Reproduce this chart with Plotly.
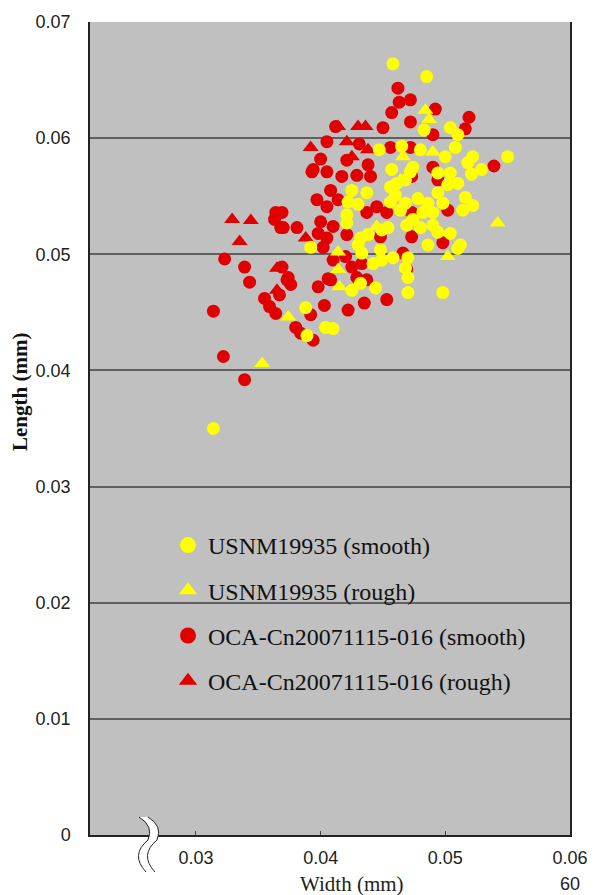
import plotly.graph_objects as go

# ---------------- data (Width mm, Length mm) ----------------
oca_smooth_w = [0.0364,0.0363,0.0368,0.0323,0.0339,0.0343,0.0314,0.0355,0.0359,0.0364,
                0.0367,0.0374,0.0376,0.0322,0.0339,0.0380,0.0384,0.0394,0.0392,0.0398,
                0.0406,0.0403,0.0422,0.0435,0.0453,0.0369,0.0373,0.0370,0.0381,0.0369,
                0.0393,0.0405,0.0417,0.0429,0.0440,0.0408,0.0397,0.0405,0.0414,0.0400,
                0.0410,0.0398,0.0405,0.0421,0.0437,0.0445,0.0453,0.0448,0.0420,0.0410,
                0.0425,0.0433,0.0408,0.0429,0.0437,0.0402,0.0462,0.0463,0.0457,0.0472,
                0.0450,0.0472,0.0412,0.0405,0.0431,0.0400,0.0394,0.0456,0.0438,0.0421,
                0.0492,0.0519,0.0516,0.0490,0.0539,0.0472,0.0490,0.0473,0.0494,0.0502,
                0.0473,0.0473,0.0498,0.0466,0.0469]
oca_smooth_l = [0.0536,0.0530,0.0523,0.0496,0.0489,0.0476,0.0451,0.0462,0.0455,0.0449,
                0.0465,0.0480,0.0474,0.0412,0.0392,0.0437,0.0432,0.0426,0.0448,0.0472,
                0.0479,0.0456,0.0452,0.0458,0.0461,0.0489,0.0478,0.0523,0.0523,0.0536,
                0.0571,0.0571,0.0567,0.0568,0.0567,0.0555,0.0547,0.0541,0.0547,0.0528,
                0.0524,0.0518,0.0514,0.0517,0.0536,0.0541,0.0536,0.0515,0.0498,0.0495,
                0.0489,0.0492,0.0478,0.0480,0.0478,0.0506,0.0643,0.0631,0.0622,0.0633,
                0.0609,0.0614,0.0610,0.0597,0.0595,0.0582,0.0573,0.0592,0.0577,0.0581,
                0.0625,0.0618,0.0608,0.0603,0.0576,0.0592,0.0575,0.0567,0.0564,0.0538,
                0.0536,0.0515,0.0510,0.0501,0.0487]

oca_rough_w = [0.0329,0.0344,0.0335,0.0365,0.0365,0.0388,0.0392,0.0414,0.0430,0.0436,
               0.0421,0.0438,0.0425]
oca_rough_l = [0.0530,0.0529,0.0511,0.0488,0.0469,0.0514,0.0592,0.0610,0.0610,0.0610,
               0.0597,0.0590,0.0584]

usnm_smooth_w = [0.0458,0.0485,0.0314,0.0550,0.0504,0.0510,0.0508,0.0522,0.0518,0.0529,
                 0.0521,0.0483,0.0480,0.0500,0.0474,0.0504,0.0447,0.0465,0.0457,0.0472,
                 0.0494,0.0502,0.0510,0.0494,0.0478,0.0468,0.0486,0.0498,0.0516,0.0522,
                 0.0514,0.0482,0.0490,0.0474,0.0469,0.0480,0.0490,0.0494,0.0504,0.0486,
                 0.0512,0.0510,0.0470,0.0468,0.0470,0.0470,0.0498,0.0425,0.0437,0.0422,
                 0.0430,0.0421,0.0421,0.0432,0.0430,0.0438,0.0449,0.0454,0.0448,0.0442,
                 0.0449,0.0458,0.0432,0.0425,0.0444,0.0392,0.0388,0.0456,0.0460,0.0464,
                 0.0456,0.0461,0.0468,0.0389,0.0404,0.0410,0.0433]
usnm_smooth_l = [0.0664,0.0653,0.0350,0.0584,0.0609,0.0603,0.0592,0.0584,0.0579,0.0573,
                 0.0569,0.0607,0.0590,0.0584,0.0575,0.0570,0.0590,0.0593,0.0573,0.0571,
                 0.0570,0.0560,0.0561,0.0553,0.0548,0.0544,0.0544,0.0544,0.0549,0.0542,
                 0.0538,0.0536,0.0536,0.0530,0.0525,0.0523,0.0525,0.0519,0.0518,0.0508,
                 0.0508,0.0505,0.0497,0.0488,0.0480,0.0467,0.0467,0.0555,0.0553,0.0545,
                 0.0543,0.0534,0.0527,0.0514,0.0508,0.0517,0.0521,0.0523,0.0504,0.0492,
                 0.0495,0.0497,0.0475,0.0469,0.0471,0.0506,0.0454,0.0545,0.0551,0.0538,
                 0.0558,0.0561,0.0564,0.0430,0.0437,0.0436,0.0501]

usnm_rough_w = [0.0466,0.0484,0.0487,0.0490,0.0464,0.0445,0.0414,0.0414,0.0415,0.0374,
                0.0353,0.0542,0.0502]
usnm_rough_l = [0.0584,0.0624,0.0616,0.0588,0.0564,0.0524,0.0502,0.0487,0.0472,0.0446,
                0.0406,0.0527,0.0498]

y_ticks = [0, 0.01, 0.02, 0.03, 0.04, 0.05, 0.06, 0.07]
y_ticktext = ["0", "0.01", "0.02", "0.03", "0.04", "0.05", "0.06", "0.07"]
x_ticks = [0.03, 0.04, 0.05, 0.06]
x_ticktext = ["0.03", "0.04", "0.05", "0.06"]

names = ["USNM19935 (smooth)", "USNM19935 (rough)",
         "OCA-Cn20071115-016 (smooth)", "OCA-Cn20071115-016 (rough)"]

YELLOW = "#FFFF00"
RED = "#E00000"
MS = 13

fig = go.Figure()
# data marks (red drawn first, yellow on top)
fig.add_trace(go.Scatter(x=oca_smooth_w, y=oca_smooth_l, mode="markers", showlegend=False,
                         marker=dict(symbol="circle", size=MS, color=RED, line=dict(width=0))))
fig.add_trace(go.Scatter(x=oca_rough_w, y=oca_rough_l, mode="markers", showlegend=False,
                         marker=dict(symbol="triangle-up", size=MS + 1, color=RED, line=dict(width=0))))
fig.add_trace(go.Scatter(x=usnm_smooth_w, y=usnm_smooth_l, mode="markers", showlegend=False,
                         marker=dict(symbol="circle", size=MS, color=YELLOW, line=dict(width=0))))
fig.add_trace(go.Scatter(x=usnm_rough_w, y=usnm_rough_l, mode="markers", showlegend=False,
                         marker=dict(symbol="triangle-up", size=MS + 1, color=YELLOW, line=dict(width=0))))

# legend entries
leg_specs = [("circle", YELLOW), ("triangle-up", YELLOW), ("circle", RED), ("triangle-up", RED)]
for i, (nm, (sym, col)) in enumerate(zip(names, leg_specs)):
    fig.add_trace(go.Scatter(x=[None], y=[None], mode="markers", name=nm, legendgroup=nm,
                             legendrank=i + 1,
                             marker=dict(symbol=sym, size=18, color=col, line=dict(width=0))))

# the page body has an 8px margin; size the figure so the plot area lands at
# page pixels x 90..570, y 22..835
PAGE_OFF = 8
W, H = 592, 887
L, R, T, B = 90 - PAGE_OFF, 30, 22 - PAGE_OFF, 60
PX0, PX1, PY0, PY1 = 90, 570, 22, 835


def px2paper(px, py):
    return (px - PX0) / (PX1 - PX0), (PY1 - py) / (PY1 - PY0)


# axis-break decoration
def wave(dx):
    pts = [(139 + dx, 817), (154 + dx, 826), (148 + dx, 840), (130 + dx, 855), (146 + dx, 872)]
    return [px2paper(a, b) for a, b in pts]


A = wave(0)
Bw = wave(9)


def qpath(p):
    return (f"M {p[0][0]},{p[0][1]} Q {p[1][0]},{p[1][1]} {p[2][0]},{p[2][1]} "
            f"Q {p[3][0]},{p[3][1]} {p[4][0]},{p[4][1]}")


def qpath_rev(p):
    return (f"L {p[4][0]},{p[4][1]} Q {p[3][0]},{p[3][1]} {p[2][0]},{p[2][1]} "
            f"Q {p[1][0]},{p[1][1]} {p[0][0]},{p[0][1]}")


shapes = [
    dict(type="path", xref="paper", yref="paper", path=qpath(A) + " " + qpath_rev(Bw) + " Z",
         fillcolor="white", line=dict(width=0), layer="above"),
    dict(type="path", xref="paper", yref="paper", path=qpath(A),
         line=dict(color="#222", width=1), layer="above"),
    dict(type="path", xref="paper", yref="paper", path=qpath(Bw),
         line=dict(color="#222", width=1), layer="above"),
]

fx, fy = px2paper(352, 884)
tx, ty = px2paper(20, 392)
sx, sy = px2paper(570, 884)

fig.update_layout(
    width=W, height=H,
    margin=dict(l=L, r=R, t=T, b=B, autoexpand=False),
    paper_bgcolor="white",
    plot_bgcolor="#C0C0C0",
    font=dict(family="Liberation Sans, Arial, sans-serif", size=18, color="#222"),
    shapes=shapes,
    showlegend=True,
    legend=dict(x=px2paper(168, 0)[0], y=px2paper(0, 523)[1], xanchor="left", yanchor="top",
                bgcolor="rgba(0,0,0,0)", borderwidth=0, tracegroupgap=11,
                font=dict(family="Liberation Serif, Times New Roman, serif", size=24, color="#111"),
                itemsizing="trace"),
    annotations=[
        dict(text="Width (mm)", x=fx, y=fy, xref="paper", yref="paper", showarrow=False,
             xanchor="center", yanchor="middle",
             font=dict(family="Liberation Serif, Times New Roman, serif", size=21, color="#222")),
        dict(text="<b>Length (mm)</b>", x=tx, y=ty, xref="paper", yref="paper", showarrow=False,
             textangle=-90, xanchor="center", yanchor="middle",
             font=dict(family="Liberation Serif, Times New Roman, serif", size=21, color="#111")),
        dict(text="60", x=sx, y=sy, xref="paper", yref="paper", showarrow=False,
             xanchor="center", yanchor="middle",
             font=dict(family="Liberation Sans, Arial, sans-serif", size=18, color="#222")),
    ],
)

fig.update_xaxes(range=[0.0215, 0.0600], tickvals=x_ticks, ticktext=x_ticktext, automargin=False,
                 showgrid=False, zeroline=False, showline=True, linecolor="#222", linewidth=1.5,
                 ticks="inside", ticklen=4, tickcolor="#444", tickwidth=1,
                 ticklabelstandoff=6)
fig.update_yaxes(range=[0, 0.07], tickvals=y_ticks, ticktext=y_ticktext, automargin=False,
                 showgrid=True, gridcolor="#606060", gridwidth=2, zeroline=False,
                 showline=True, mirror=True, linecolor="#222", linewidth=1.5,
                 ticks="", ticklabelstandoff=14)

fig.write_html("out.html")
